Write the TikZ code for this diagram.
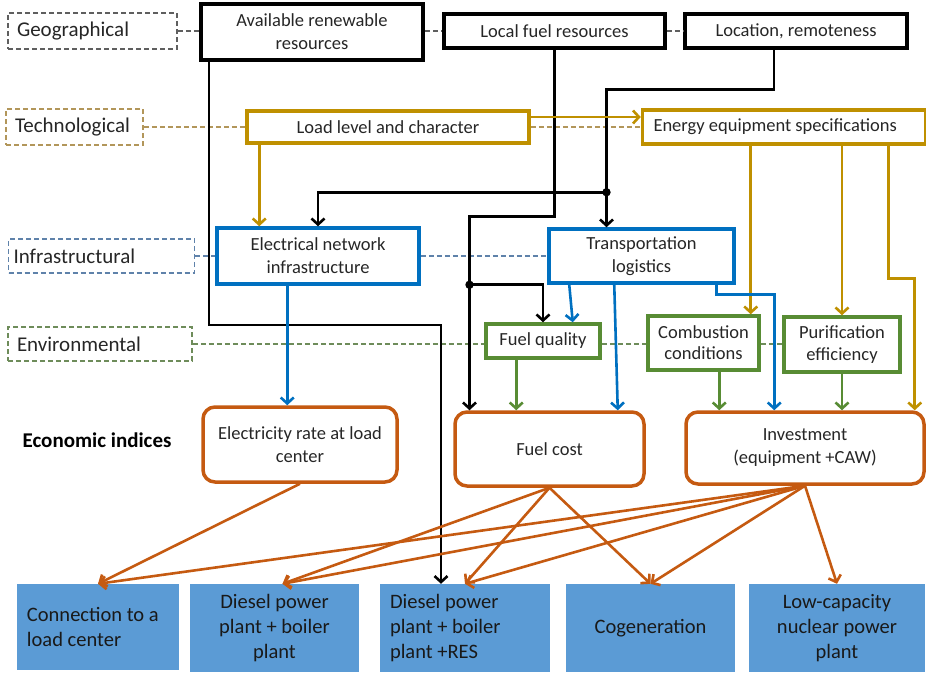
\documentclass[tikz,border=0pt]{standalone}
\usepackage{fontspec}
\setmainfont{Carlito}
\usetikzlibrary{arrows.meta}
\definecolor{texte}{RGB}{38,38,38}
\definecolor{geogris}{RGB}{95,95,95}
\definecolor{jaune}{RGB}{191,144,0}
\definecolor{jaunepale}{RGB}{178,150,90}
\definecolor{bleu}{RGB}{0,112,192}
\definecolor{bleupale}{RGB}{95,130,170}
\definecolor{vert}{RGB}{88,140,52}
\definecolor{vertpale}{RGB}{110,140,90}
\definecolor{orangeeco}{RGB}{197,90,17}
\definecolor{bleuclair}{RGB}{91,155,213}
\begin{document}
\begin{tikzpicture}[x=1pt,y=-1pt]
	\def\TailleA{\fontsize{18.5}{23}\selectfont}
	\def\TailleB{\fontsize{21}{24}\selectfont}
	\def\TailleC{\fontsize{20.5}{25}\selectfont}
	\tikzstyle{fleche}=[-{Straight Barb[length=6pt,width=13pt]},line width=2.6pt]
	\tikzstyle{pointille}=[dash pattern=on 5pt off 3pt,line width=1.8pt]
	\tikzstyle{categorie}=[pointille,draw,align=flush left,inner xsep=9pt,minimum height=36pt,text=texte,font=\TailleB]
	\tikzstyle{facteur}=[draw,line width=3.5pt,align=center,inner sep=2pt,text=texte,font=\TailleA]
	\tikzstyle{indice}=[facteur,draw=orangeeco,rounded corners=12pt]
	\tikzstyle{option}=[fill=bleuclair,inner sep=0pt,font=\TailleC,text=black!90,minimum height=88pt]
	\useasboundingbox (0,0) rectangle (926,672);
	% categories
	\node[categorie,draw=geogris,text width=151pt] (Geo) at (92.5,31) {Geographical};
	\node[categorie,draw=jaunepale,text width=119pt] (Tech) at (74.5,127) {Technological};
	\node[categorie,draw=bleupale,text width=176pt,minimum height=34pt,inner xsep=5pt] (Infra) at (101.5,256) {Infrastructural};
	\node[categorie,draw=vertpale,text width=166pt,minimum height=34pt] (Env) at (100,344) {Environmental};
	\node[font=\fontsize{21}{24}\selectfont\bfseries] (Eco) at (97,440) {Economic indices};
	% facteurs
	\node[facteur,line width=4pt,minimum width=222pt,minimum height=56pt] (Renouv) at (312,32) {Available renewable\\resources};
	\node[facteur,minimum width=221pt,minimum height=34pt] (Combust) at (554.5,31) {Local fuel resources};
	\node[facteur,minimum width=222pt,minimum height=34pt] (Site) at (796,31) {Location, remoteness};
	\node[facteur,draw=jaune,minimum width=282pt,minimum height=32pt] (Charge) at (388,127) {Load level and character};
	\node[facteur,draw=jaune,text width=261pt,inner xsep=11pt,align=flush left,minimum height=34pt] (Equip) at (784,127) {Energy equipment specifications};
	\node[facteur,draw=bleu,minimum width=202pt,minimum height=56pt] (Reseau) at (318,256) {Electrical network\\infrastructure};
	\node[facteur,draw=bleu,minimum width=185pt,minimum height=54pt] (Transp) at (641.5,256) {Transportation\\logistics};
	\node[facteur,draw=vert,minimum width=114pt,minimum height=34pt] (Qualite) at (543,341) {Fuel quality};
	\node[facteur,draw=vert,minimum width=111pt,minimum height=54pt,font=\fontsize{18.5}{21}\selectfont] (Condit) at (703.5,343) {Combustion\\conditions};
	\node[facteur,draw=vert,minimum width=116pt,minimum height=55pt,font=\fontsize{18.5}{22}\selectfont] (Epur) at (842,344.5) {Purification\\efficiency};
	% indices
	\node[indice,minimum width=194pt,minimum height=75pt] (Tarif) at (300,444.5) {Electricity rate at load\\center};
	\node[indice,minimum width=189pt,minimum height=74pt] (Cout) at (549.5,449) {Fuel cost};
	\node[indice,minimum width=238pt,minimum height=72pt] (Invest) at (805,448) {Investment\\(equipment +CAW)};
	% options
	\node[option,text width=142pt,inner xsep=10pt,minimum height=86pt,align=flush left] (Raccord) at (98,627) {Connection to a\\load center};
	\node[option,minimum width=169pt,align=center] (Diesel) at (274.5,628) {Diesel power\\plant + boiler\\plant};
	\node[option,text width=150pt,inner xsep=10pt,align=flush left] (DieselER) at (465,628) {Diesel power\\plant + boiler\\plant +RES};
	\node[option,minimum width=169pt] (Cogen) at (650.5,628) {Cogeneration};
	\node[option,minimum width=176pt,align=center] (Nucl) at (837,628) {Low-capacity\\nuclear power\\plant};
	% liens pointilles
	\draw[pointille,geogris] (Geo.east) -- (Geo.east -| Renouv.west);
	\draw[pointille,geogris] (Renouv.east |- Combust.west) -- (Combust.west);
	\draw[pointille,geogris] (Combust.east) -- (Site.west);
	\draw[pointille,jaunepale] (Tech.east) -- (Charge.west);
	\draw[pointille,jaunepale] (Charge.east) -- (Equip.west);
	\draw[pointille,bleupale] (Infra.east) -- (Reseau.west);
	\draw[pointille,bleupale] (Reseau.east) -- (Transp.west);
	\draw[pointille,vertpale] (Env.east) -- (Env.east -| Qualite.west);
	\draw[pointille,vertpale] (Qualite.east |- Env.east) -- (Env.east -| Condit.west);
	\draw[pointille,vertpale] (Condit.east |- Env.east) -- (Env.east -| Epur.west);
	% fleches noires
	\draw[fleche] ([xshift=10pt]Renouv.south west) -- ++(0,263) -| ([xshift=-24pt]DieselER.north);
	\draw[fleche] (Combust.south) -- ++(0,167) -| ([xshift=-80pt]Cout.north);
	\coordinate (JCombust) at ([xshift=-80pt]Cout.north |- Transp.south);
	\fill (JCombust) circle (4.2);
	\draw[fleche] (JCombust) -| (Qualite.north);
	\draw[fleche] ([xshift=-22pt]Site.south) -- ++(0,40) -| ([xshift=-35pt]Transp.north);
	\coordinate (JSite) at ([xshift=-35pt,yshift=35pt]Transp.north);
	\fill (JSite) circle (4.2);
	\draw[fleche] (JSite) -| (Reseau.north);
	% fleches jaunes
	\draw[fleche,jaune] ([xshift=14pt]Charge.south west) -- ([xshift=44pt]Reseau.north west);
	\draw[fleche,jaune] ([yshift=10pt]Charge.east) -- ([yshift=10pt]Equip.west);
	\draw[fleche,jaune] ([xshift=-10pt]Condit.north east |- Equip.south) -- ([xshift=-10pt]Condit.north east);
	\draw[fleche,jaune] (Epur.north |- Equip.south) -- (Epur.north);
	\draw[fleche,jaune] ([xshift=-39pt]Equip.south east) -- ++(0,133) -| ([xshift=-11pt]Invest.north east);
	% fleches bleues
	\draw[fleche,bleu] ([xshift=72pt]Reseau.south west) -- ([xshift=86pt]Tarif.north west);
	\draw[fleche,bleu] ([xshift=22pt]Transp.south west) -- ([xshift=-29pt]Qualite.north east);
	\draw[fleche,bleu] ([xshift=67pt]Transp.south west) -- ([xshift=-28pt]Cout.north east);
	\draw[fleche,bleu] ([xshift=-19pt]Transp.south east) -- ++(0,10) -| ([xshift=90pt]Invest.north west);
	% fleches vertes
	\draw[fleche,vert] ([xshift=32pt]Qualite.south west) -- ([xshift=63pt]Cout.north west);
	\draw[fleche,vert] ([xshift=73pt]Condit.south west) -- ([xshift=35pt]Invest.north west);
	\draw[fleche,vert] (Epur.south) -- (Epur.south |- Invest.north);
	% fleches orange
	\draw[fleche,orangeeco] (Tarif.south) -- (Raccord.north);
	\draw[fleche,orangeeco] (Cout.south) -- ([xshift=8pt]Diesel.north);
	\draw[fleche,orangeeco] (Cout.south) -- (DieselER.north);
	\draw[fleche,orangeeco] (Cout.south) -- (Cogen.north);
	\draw[fleche,orangeeco] (Invest.south) -- (Raccord.north);
	\draw[fleche,orangeeco] (Invest.south) -- ([xshift=8pt]Diesel.north);
	\draw[fleche,orangeeco] (Invest.south) -- (DieselER.north);
	\draw[fleche,orangeeco] (Invest.south) -- (Cogen.north);
	\draw[fleche,orangeeco] (Invest.south) -- (Nucl.north);
\end{tikzpicture}
\end{document}
